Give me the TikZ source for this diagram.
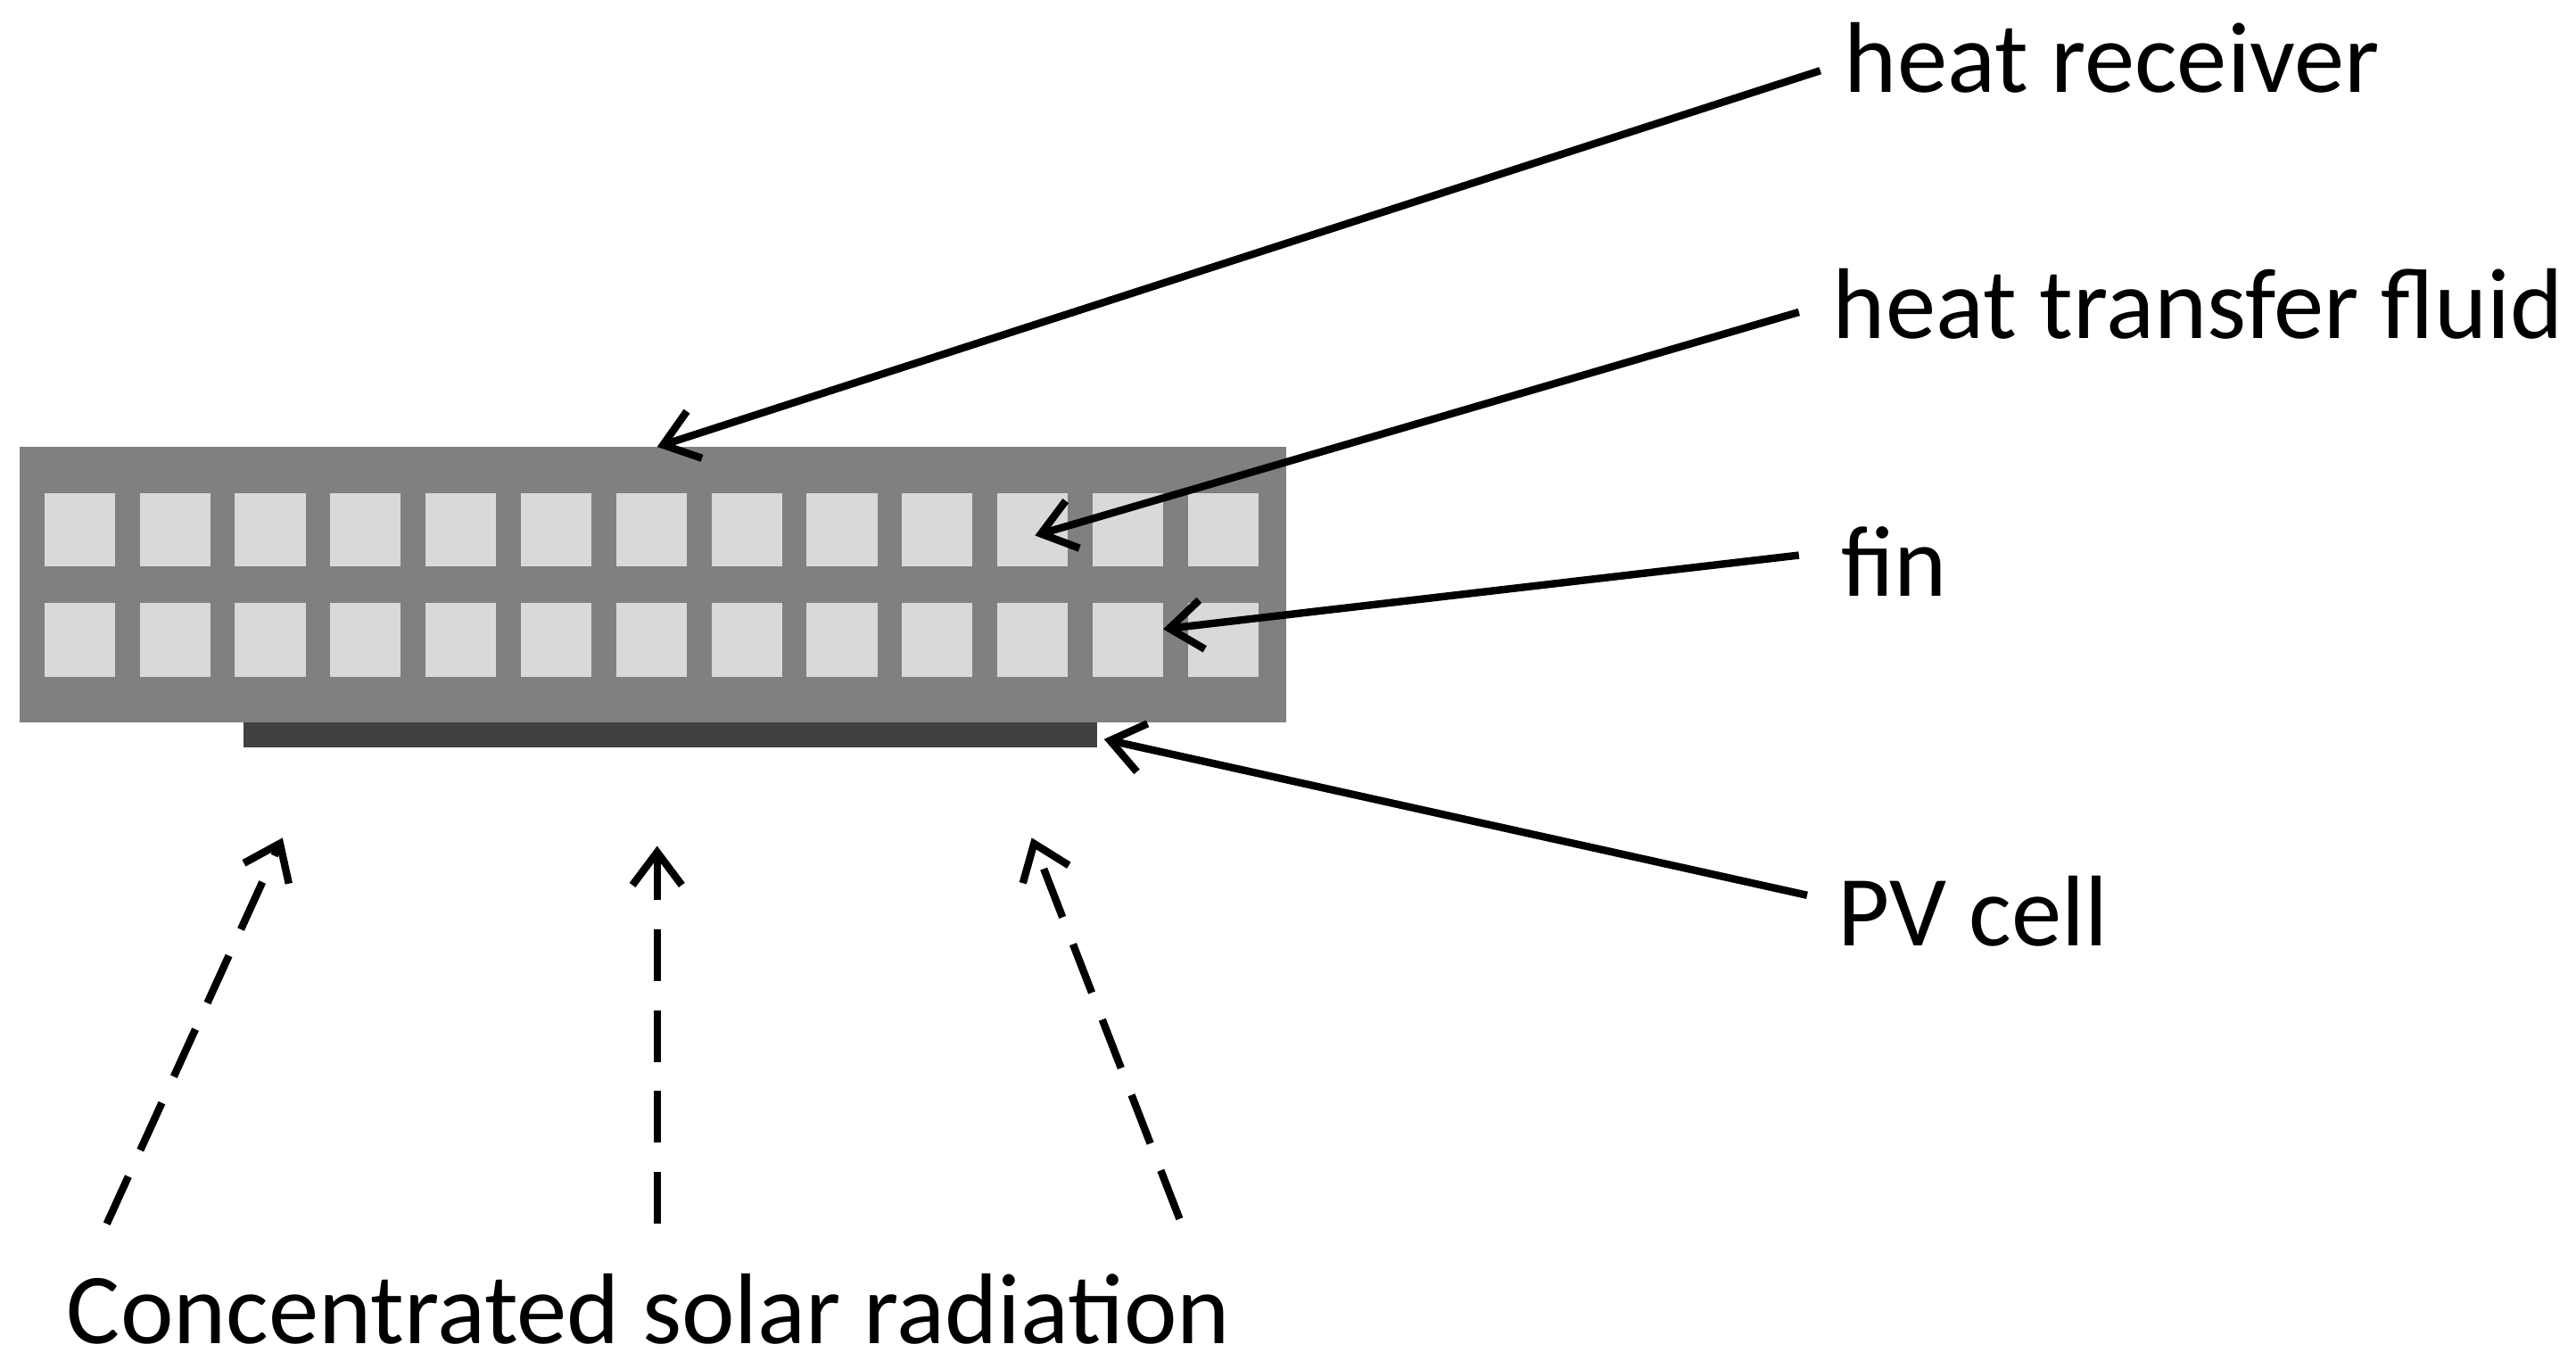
\documentclass[tikz,border=0pt]{standalone}
\usepackage{fontspec}
\setmainfont{Carlito}
\usetikzlibrary{arrows.meta}
\definecolor{receivergray}{gray}{0.5}
\definecolor{fluidgray}{gray}{0.85}
\definecolor{cellgray}{gray}{0.25}
\tikzset{
	label text/.style={anchor=west, font=\fontsize{17.4}{20}\selectfont, inner sep=0pt},
	pointer/.style={line width=1.3pt, -{Straight Barb[length=2mm, width=3mm, line width=1.3pt]}},
	ray/.style={pointer, dash pattern=on 9pt off 5pt}
}
\begin{document}
\begin{tikzpicture}[x=0.01cm, y=-0.01cm]
		\useasboundingbox (0,0) rectangle (1568,833);
		
		%receiver
		\fill[receivergray] (12,272) coordinate (rec tl) rectangle (783,440) coordinate (rec br);
		\foreach \i in {0,...,12}
		{
			\fill[fluidgray] (27+58*\i,300) rectangle ++(43,45);
			\fill[fluidgray] (27+58*\i,367) rectangle ++(43,45);
		}
		%pv cell
		\fill[cellgray] (148,440) rectangle (668,455);
		
		%labels
		\node[label text] (receiver) at (1122,35) {heat receiver};
		\node[label text] (fluid) at (1115,185) {heat transfer fluid};
		\node[label text] (fin) at (1120,342) {fin};
		\node[label text] (pv) at (1118,555) {PV cell};
		\node[label text] (sun) at (40,797) {Concentrated solar radiation};
		
		%pointers
		\coordinate (receiver tip) at (400,272);
		\coordinate (fluid tip) at (630,326);
		\coordinate (fin tip) at (708,383);
		\coordinate (pv tip) at (672,450);
		\draw[pointer] (receiver.west) ++(-14,8) -- (receiver tip);
		\draw[pointer] (fluid.west) ++(-20,5) -- (fluid tip);
		\draw[pointer] (fin.west) ++(-25,-4) -- (fin tip);
		\draw[pointer] (pv.west) ++(-18,-10) -- (pv tip);
		
		%radiation
		\coordinate (ray a) at (65,745);
		\coordinate (ray b) at (400,745);
		\coordinate (ray c) at (718,742);
		\draw[ray] (ray a) -- (172,510);
		\draw[ray] (ray b) -- (400,515);
		\draw[ray] (ray c) -- (628,510);
	
	\end{tikzpicture}
\end{document}
